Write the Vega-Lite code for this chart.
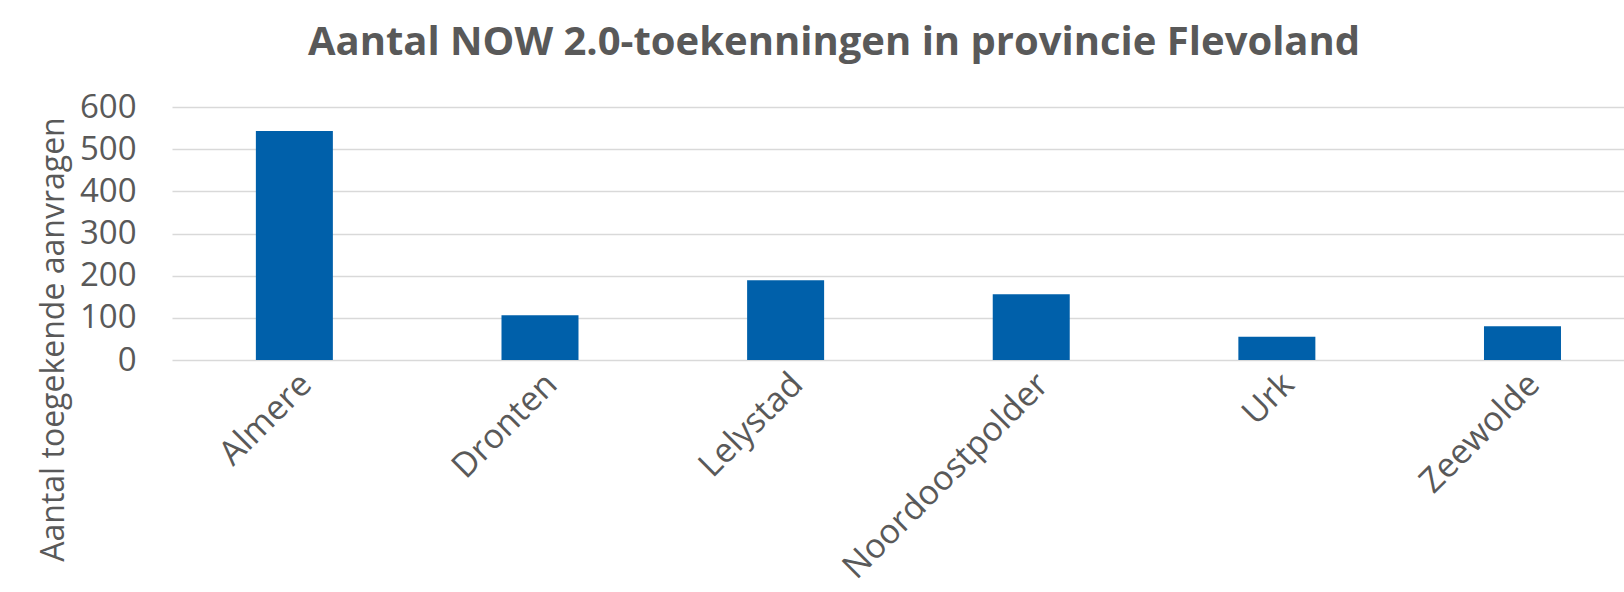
{
  "$schema": "https://vega.github.io/schema/vega-lite/v6.json",
  "width": 1452,
  "height": 253,
  "autosize": {"type": "none"},
  "padding": {"left": 172, "top": 107, "right": 0, "bottom": 232},
  "background": "white",
  "title": {
    "text": "Aantal NOW 2.0-toekenningen in provincie Flevoland",
    "font": "Open Sans",
    "fontSize": 40,
    "fontWeight": "bold",
    "color": "#595959",
    "anchor": "middle",
    "frame": "group",
    "dx": -64,
    "baseline": "alphabetic",
    "offset": -4
  },
  "data": {
    "values": [
      {"gemeente": "Almere", "aantal": 543},
      {"gemeente": "Dronten", "aantal": 106},
      {"gemeente": "Lelystad", "aantal": 189},
      {"gemeente": "Noordoostpolder", "aantal": 156},
      {"gemeente": "Urk", "aantal": 55},
      {"gemeente": "Zeewolde", "aantal": 80}
    ]
  },
  "mark": {"type": "bar", "color": "#0060AA"},
  "encoding": {
    "x": {
      "field": "gemeente",
      "type": "nominal",
      "sort": null,
      "scale": {"paddingInner": 0.6865, "paddingOuter": 0.299, "align": 0.571},
      "axis": {
        "title": null,
        "labelAngle": -45,
        "labelFont": "Open Sans",
        "labelFontSize": 34,
        "labelColor": "#595959",
        "labelLimit": 0,
        "ticks": false,
        "domain": false,
        "labelPadding": 7
      }
    },
    "y": {
      "field": "aantal",
      "type": "quantitative",
      "scale": {"domain": [0, 600], "nice": false},
      "axis": {
        "values": [0, 100, 200, 300, 400, 500, 600],
        "title": "Aantal toegekende aanvragen",
        "titleFont": "Open Sans",
        "titleFontSize": 32,
        "titleFontWeight": "normal",
        "titleColor": "#595959",
        "titleAngle": -90,
        "titleAlign": "center",
        "titleBaseline": "alphabetic",
        "titleX": -109,
        "titleY": 232,
        "labelFont": "Open Sans",
        "labelFontSize": 33,
        "labelColor": "#595959",
        "labelPadding": 36,
        "ticks": false,
        "domain": false,
        "grid": true,
        "gridColor": "#D9D9D9",
        "gridWidth": 1.5
      }
    }
  },
  "config": {"view": {"stroke": null}}
}
